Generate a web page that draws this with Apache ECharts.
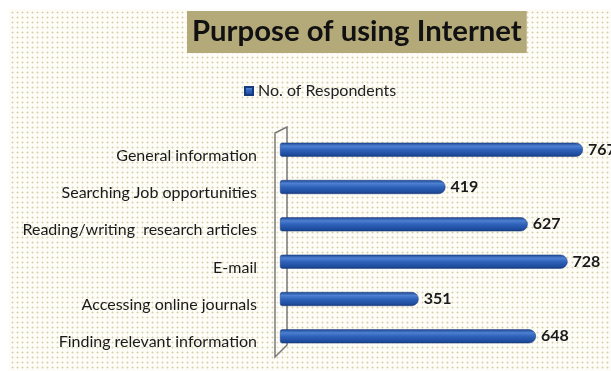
<!DOCTYPE html>
<html>
<head>
<meta charset="utf-8">
<script src="https://cdn.jsdelivr.net/npm/echarts@6/dist/echarts.min.js"></script>
<style>
html,body{margin:0;padding:0;background:#fff;}
#chart{width:611px;height:371px;}
</style>
</head>
<body>
<div id="chart"></div>
<script>
var titleText = 'Purpose of using Internet';
var seriesName = 'No. of Respondents';
var categories = ['Finding relevant information','Accessing online journals','E-mail','Reading/writing  research articles','Searching Job opportunities','General information'];
var values = [648, 351, 728, 627, 419, 767];

var pc = document.createElement('canvas');
pc.width = 5; pc.height = 5;
var pctx = pc.getContext('2d');
pctx.fillStyle = '#fdfcf6';
pctx.fillRect(0,0,5,5);
pctx.fillStyle = '#d6d0ac';
pctx.fillRect(2,2,1,1);
pctx.fillStyle = '#ebe7d2';
pctx.fillRect(1,2,1,1);pctx.fillRect(3,2,1,1);pctx.fillRect(2,1,1,1);pctx.fillRect(2,3,1,1);

var chart = echarts.init(document.getElementById('chart'), null, {renderer:'canvas'});
var gridLeft = 280, gridTop = 131, gridH = 224, gridW = 316;

var barColor = new echarts.graphic.LinearGradient(0,0,0,1,[
  {offset:0,color:'#1d4590'},
  {offset:0.25,color:'#4d80d2'},
  {offset:0.5,color:'#2f62ba'},
  {offset:0.85,color:'#1f4c9e'},
  {offset:1,color:'#163a7c'}
]);

var bgRect = {
  type:'rect', z:-10, silent:true,
  shape:{x:9,y:9,width:602,height:362},
  style:{fill:{image:pc, repeat:'repeat'}}
};
var x0 = gridLeft - 5, x1 = gridLeft + 7, yT = gridTop, yB = gridTop + gridH;
var wall = {
  type:'polygon', z:0, silent:true,
  shape:{points:[[x0,yT+2],[x1,yT-4],[x1,yB-10],[x0,yB+2]]},
  style:{fill:'rgba(255,255,255,0.35)', stroke:'#7a7a7a', lineWidth:1.5}
};

chart.setOption({
  animation:false,
  backgroundColor:'#ffffff',
  graphic:[bgRect, wall],
  title:{
    text:titleText,
    left:187, top:11,
    backgroundColor:'#b4a979',
    padding:[5,5,5,5],
    textStyle:{fontFamily:'Lato',fontWeight:'bold',fontSize:29.3,color:'#111',lineHeight:32}
  },
  legend:{
    data:[seriesName],
    left:239, top:78,
    icon:'rect', itemWidth:8, itemHeight:8, itemGap:6,
    textStyle:{fontFamily:'Lato',fontSize:16,color:'#222'}
  },
  grid:{left:gridLeft, top:gridTop, width:gridW, height:gridH, containLabel:false},
  xAxis:{
    type:'value', min:0, max:800,
    axisLine:{show:false}, axisTick:{show:false}, axisLabel:{show:false}, splitLine:{show:false}
  },
  yAxis:{
    type:'category', data:categories,
    axisLine:{show:false}, axisTick:{show:false},
    axisLabel:{margin:23, fontFamily:'Lato', fontSize:16, color:'#1a1a1a', verticalAlign:'top', lineHeight:12}
  },
  series:[{
    name:seriesName, type:'bar', data:values,
    barWidth:14,
    itemStyle:{color:barColor, borderRadius:[2,7,7,2], borderColor:'#163a7c', borderWidth:0.5},
    label:{show:true, position:'right', distance:5, fontFamily:'Lato', fontWeight:'bold', fontSize:16, color:'#1a1a1a'}
  }]
});
</script>
</body>
</html>
